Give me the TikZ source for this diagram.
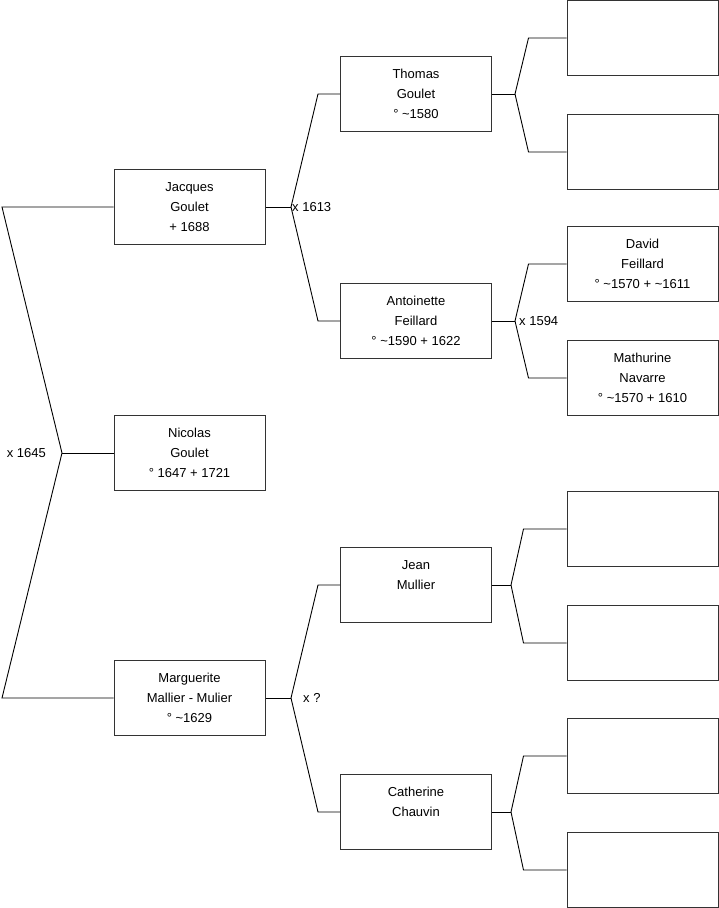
\documentclass[tikz,border=0pt]{standalone}
\usepackage{fontspec}
\usepackage{tikz}
\usetikzlibrary{positioning}
\newfontfamily\treefont{Liberation Sans}
\colorlet{BoxLine}{black!80}
\colorlet{LinkLine}{black}

\begin{document}
\begin{tikzpicture}[
    x=1pt, y=-1pt,
    person/.style={
        rectangle, minimum width=151pt, minimum height=75pt,
        draw=BoxLine, line width=1pt, align=center, inner sep=0pt,
        font=\treefont\fontsize{13}{20}\selectfont, text=black
    },
    link/.style={draw=LinkLine, line width=0.9pt},
    marr/.style={font=\treefont\fontsize{13}{14}\selectfont, text=black,
        inner sep=1pt},
    node distance=0pt
]
\useasboundingbox (0,0) rectangle (719,908);

% ===================================================================
% Generation 1 (left column)
% ===================================================================
\node[person] (jacques) at (189.5,207)
    {Jacques\\Goulet\\+ 1688};
\node[person] (nicolas) at (189.5,453)
    {Nicolas\\Goulet\\° 1647 + 1721};
\node[person] (marguerite) at (189.5,698)
    {Marguerite\\Mallier - Mulier\\° \textasciitilde1629};

% ===================================================================
% Generation 2 (middle column)
% ===================================================================
\node[person] (thomas) at (416,94)
    {Thomas\\Goulet\\° \textasciitilde1580};
\node[person] (antoinette) at (416,321)
    {Antoinette\\Feillard\\° \textasciitilde1590 + 1622};
\node[person] (jean) at (416,585)
    {Jean\\Mullier\\\mbox{}};
\node[person] (catherine) at (416,812)
    {Catherine\\Chauvin\\\mbox{}};

% ===================================================================
% Generation 3 (right column)
% ===================================================================
\node[person] (thomasfa) at (642.5,38) {};
\node[person] (thomasmo) at (642.5,152) {};
\node[person] (david) at (642.5,264)
    {David\\Feillard\\° \textasciitilde1570 + \textasciitilde1611};
\node[person] (mathurine) at (642.5,378)
    {Mathurine\\Navarre\\° \textasciitilde1570 + 1610};
\node[person] (jeanfa) at (642.5,529) {};
\node[person] (jeanmo) at (642.5,643) {};
\node[person] (cathfa) at (642.5,756) {};
\node[person] (cathmo) at (642.5,870) {};

% ===================================================================
% Marriage forks
% ===================================================================
% x 1645
\coordinate (x1645) at (62,453);
\coordinate (xtop) at (2,207);
\coordinate (xbot) at (2,698);
\draw[link] (jacques.west) -- (xtop) -- (x1645) -- (xbot) -- (marguerite.west);
\draw[link] (x1645) -- (nicolas.west);
\node[marr, left=15pt of x1645] (m1645) {x 1645};

% x 1613
\coordinate (x1613) at (291,207);
\draw[link] (jacques.east) -- (x1613);
\draw[link] (thomas.west) -- ++(-22,0) -- (x1613);
\draw[link] (antoinette.west) -- ++(-22,0) -- (x1613);
\node[marr, right=0pt of x1613] (m1613) {x 1613};

% x ?
\coordinate (xmull) at (291,698);
\draw[link] (marguerite.east) -- (xmull);
\draw[link] (jean.west) -- ++(-22,0) -- (xmull);
\draw[link] (catherine.west) -- ++(-22,0) -- (xmull);
\node[marr, right=11pt of xmull] (mmull) {x ?};

% parents of Thomas
\coordinate (xthom) at (515,94);
\draw[link] (thomas.east) -- (xthom);
\draw[link] (thomasfa.west) -- ++(-38,0) -- (xthom);
\draw[link] (thomasmo.west) -- ++(-38,0) -- (xthom);

% x 1594
\coordinate (x1594) at (515,321);
\draw[link] (antoinette.east) -- (x1594);
\draw[link] (david.west) -- ++(-38,0) -- (x1594);
\draw[link] (mathurine.west) -- ++(-38,0) -- (x1594);
\node[marr, right=3pt of x1594] (m1594) {x 1594};

% parents of Jean
\coordinate (xjean) at (511,585);
\draw[link] (jean.east) -- (xjean);
\draw[link] (jeanfa.west) -- ++(-43,0) -- (xjean);
\draw[link] (jeanmo.west) -- ++(-43,0) -- (xjean);

% parents of Catherine
\coordinate (xcath) at (511,812);
\draw[link] (catherine.east) -- (xcath);
\draw[link] (cathfa.west) -- ++(-43,0) -- (xcath);
\draw[link] (cathmo.west) -- ++(-43,0) -- (xcath);

\end{tikzpicture}
\end{document}
